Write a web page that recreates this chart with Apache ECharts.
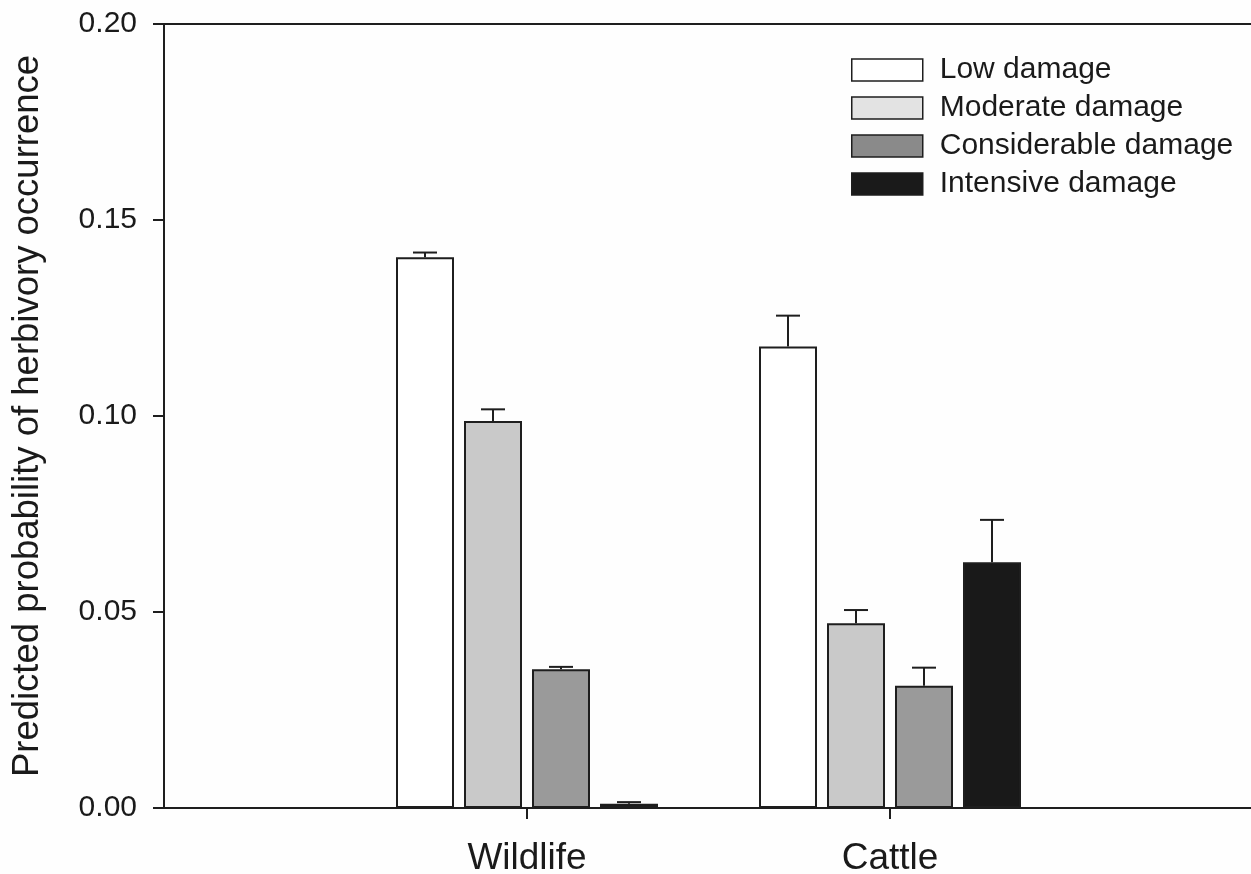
<!DOCTYPE html>
<html>
<head>
<meta charset="utf-8">
<script src="https://cdn.jsdelivr.net/npm/echarts@6/dist/echarts.min.js"></script>
<style>
html,body{margin:0;padding:0;background:#fefefe;}
#chart{width:1251px;height:874px;}
</style>
</head>
<body>
<div id="chart"></div>
<script>
// Categories (padded with empty slots at the axis ends)
const categories = ['', 'Wildlife', 'Cattle', ''];
const seriesNames = ['Low damage', 'Moderate damage', 'Considerable damage', 'Intensive damage'];
// Means [Wildlife, Cattle]
const lowMean = [0.1405, 0.1177];
const moderateMean = [0.0987, 0.0471];
const considerableMean = [0.0354, 0.0312];
const intensiveMean = [0.0011, 0.0627];
// Standard errors (upper) [Wildlife, Cattle]
const lowErr = [0.0012, 0.0079];
const moderateErr = [0.0030, 0.0034];
const considerableErr = [0.0006, 0.0046];
const intensiveErr = [0.0004, 0.0108];
const yTicks = [0, 0.05, 0.10, 0.15, 0.20];

const means = [lowMean, moderateMean, considerableMean, intensiveMean];
const errs = [lowErr, moderateErr, considerableErr, intensiveErr];
const barColors = ['#ffffff', '#c9c9c9', '#9a9a9a', '#191919'];
const legendColors = ['#ffffff', '#e3e3e3', '#8a8a8a', '#1a1a1a'];
const ink = '#1e1e1e';
const BAR_W = 58, GAP = 10;
const FONT = '"Liberation Sans", Arial, sans-serif';

const chart = echarts.init(document.getElementById('chart'));

const barSeries = means.map((m, i) => ({
  name: seriesNames[i],
  type: 'bar',
  barWidth: BAR_W,
  barGap: (GAP / BAR_W * 100).toFixed(2) + '%',
  data: [null, m[0], m[1], null],
  itemStyle: { color: barColors[i], borderColor: ink, borderWidth: 2 },
  emphasis: { disabled: true },
  z: 2
}));

const errSeries = means.map((m, i) => ({
  name: 'err' + i,
  type: 'custom',
  z: 5,
  data: [[1, m[0], errs[i][0]], [2, m[1], errs[i][1]]],
  renderItem: function (params, api) {
    const cat = api.value(0), v = api.value(1), e = api.value(2);
    const base = api.coord([cat, v]);
    const top = api.coord([cat, v + e]);
    const x = base[0] + (i - 1.5) * (BAR_W + GAP);
    const st = { stroke: ink, lineWidth: 2 };
    return {
      type: 'group',
      children: [
        { type: 'line', shape: { x1: x, y1: base[1], x2: x, y2: top[1] }, style: st },
        { type: 'line', shape: { x1: x - 12, y1: top[1], x2: x + 12, y2: top[1] }, style: st }
      ]
    };
  }
}));

chart.setOption({
  backgroundColor: '#fefefe',
  animation: false,
  grid: { left: 164, right: -2, top: 24, bottom: 66, containLabel: false, outerBoundsMode: 'none', show: true, borderColor: ink, borderWidth: 2, backgroundColor: 'transparent' },
  legend: {
    orient: 'vertical',
    left: 846,
    top: 50,
    itemWidth: 71,
    itemHeight: 22,
    itemGap: 8,
    icon: 'rect',
    data: seriesNames.map((n, i) => ({ name: n, itemStyle: { color: legendColors[i], borderColor: ink, borderWidth: 1.5 } })),
    textStyle: { fontFamily: FONT, fontSize: 30, color: '#1a1a1a', padding: [0, 0, 0, 12] }
  },
  xAxis: {
    type: 'category',
    data: categories,
    boundaryGap: false,
    axisLine: { lineStyle: { color: ink, width: 2 } },
    axisTick: { length: 11, lineStyle: { color: ink, width: 2 }, interval: (idx, val) => val !== '' },
    axisLabel: { interval: 0, fontFamily: FONT, fontSize: 37, color: '#1a1a1a', margin: 32 },
    splitLine: { show: false }
  },
  yAxis: {
    type: 'value',
    min: yTicks[0],
    max: yTicks[yTicks.length - 1],
    interval: yTicks[1] - yTicks[0],
    name: 'Predicted probability of herbivory occurrence',
    nameLocation: 'middle',
    nameRotate: 90,
    nameGap: 118,
    nameTextStyle: { fontFamily: FONT, fontSize: 36.5, color: '#1a1a1a' },
    axisLine: { show: true, lineStyle: { color: ink, width: 2 } },
    axisTick: { show: true, length: 11, lineStyle: { color: ink, width: 2 } },
    axisLabel: { formatter: v => v.toFixed(2), fontFamily: FONT, fontSize: 30, color: '#1a1a1a', margin: 27 },
    splitLine: { show: false }
  },
  series: barSeries.concat(errSeries)
});
</script>
</body>
</html>
